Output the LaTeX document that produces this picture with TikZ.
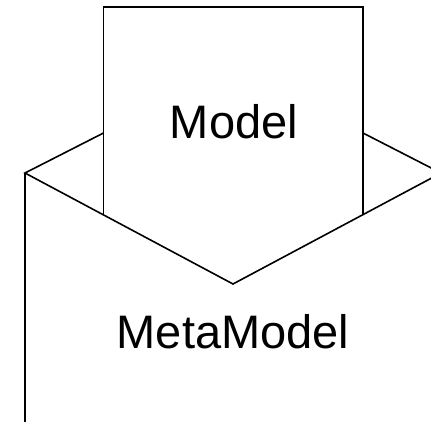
\documentclass[tikz,border=0pt]{standalone}
\usepackage{fontspec}
\setmainfont{Liberation Sans}
\begin{document}
\begin{tikzpicture}[x=1pt,y=-1pt,
  edge/.style={draw=black,line width=1.6pt,line join=miter},
  label/.style={font=\fontsize{47}{56}\selectfont,anchor=base,inner sep=0pt}]
\useasboundingbox (0,0) rectangle (431,421);
\clip (0,0) rectangle (431,421);
\coordinate (lc) at (25,173);
\coordinate (rc) at (441,173);
\coordinate (bot) at (233,284);
\coordinate (ml) at (103.5,215);
\coordinate (mr) at (363,215);
\coordinate (mtl) at (103.5,7);
\coordinate (mtr) at (363,7);
\coordinate (fl) at (103.5,133);
\coordinate (fr) at (363,133);
\coordinate (lb) at (25,430);
\coordinate (rb) at (441,430);
% model sheet
\draw[edge] (ml) -- (mtl) -- (mtr) -- (mr);
% envelope
\draw[edge] (fl) -- (lc) -- (bot) -- (rc) -- (fr);
\draw[edge] (lc) -- (lb);
\draw[edge] (rc) -- (rb);
\node[label] (model) at (234,138) {Model};
\node[label] (meta) at (233,348) {MetaModel};
\end{tikzpicture}
\end{document}
